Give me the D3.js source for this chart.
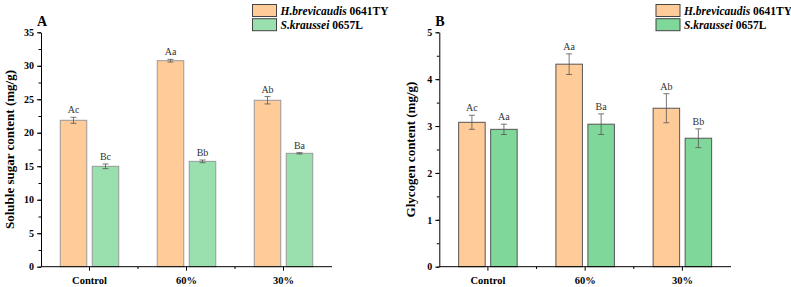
<!DOCTYPE html>
<html>
<head>
<meta charset="utf-8">
<script src="https://cdn.jsdelivr.net/npm/d3@7"></script>
<style>
  body { margin: 0; background: #fff; }
  svg, svg text { font-family: "Liberation Serif", "Times New Roman", serif; }
</style>
</head>
<body>
<div id="chart"></div>
<script>
const groups = ['Control', '60%', '30%'];
const seriesNames = ['H.brevicaudis', 'S.kraussei'];
const seriesCodes = [' 0641TY', ' 0657L'];

// panel A - soluble sugar
const sugarH = [21.86, 30.76, 24.85];
const sugarHErr = [0.45, 0.2, 0.55];
const sugarS = [14.99, 15.73, 16.93];
const sugarSErr = [0.35, 0.2, 0.1];
const sugarLabelsH = ['Ac', 'Aa', 'Ab'];
const sugarLabelsS = ['Bc', 'Bb', 'Ba'];
const sugarTicks = [0, 5, 10, 15, 20, 25, 30, 35];

// panel B - glycogen
const glyH = [3.08, 4.32, 3.38];
const glyHErr = [0.15, 0.22, 0.31];
const glyS = [2.93, 3.04, 2.74];
const glySErr = [0.11, 0.22, 0.2];
const glyLabelsH = ['Ac', 'Aa', 'Ab'];
const glyLabelsS = ['Aa', 'Ba', 'Bb'];
const glyTicks = [0, 1, 2, 3, 4, 5];

const W = 791, H = 287;
const svg = d3.select("#chart").append("svg")
  .attr("width", W).attr("height", H);

function panel(opt) {
  const g = svg.append("g");
  const x = d3.scaleBand().domain(groups).range([opt.x0, opt.x1]);
  const y = d3.scaleLinear().domain([0, opt.max]).range([266.7, 32.3]);

  // minor y ticks
  const minor = d3.range(0, opt.max + 1e-9, opt.max / ((opt.ticks.length - 1) * 2));
  g.append("g")
    .attr("transform", "translate(" + opt.x0 + ",0)")
    .call(d3.axisLeft(y).tickValues(minor).tickSize(2.5).tickFormat(""))
    .call(a => a.select(".domain").remove());

  const yAxis = g.append("g")
    .attr("transform", "translate(" + opt.x0 + ",0)")
    .call(d3.axisLeft(y).tickValues(opt.ticks).tickFormat(d3.format("d"))
      .tickSize(4).tickSizeOuter(0).tickPadding(3));
  yAxis.attr("font-family", null);
  yAxis.selectAll("text").style("font-size", "10px").style("font-weight", "bold").attr("fill", "#000");

  // bars
  const bw = 26.5;
  const sets = [
    { vals: opt.h, err: opt.hErr, lab: opt.hLab, color: "#ffcc99", off: -16 },
    { vals: opt.s, err: opt.sErr, lab: opt.sLab, color: opt.green, off: 16 }
  ];
  sets.forEach(s => {
    g.selectAll(null).data(groups).enter().append("rect")
      .attr("x", (d) => x(d) + x.bandwidth() / 2 + s.off - bw / 2)
      .attr("y", (d, i) => y(s.vals[i]))
      .attr("width", bw)
      .attr("height", (d, i) => y(0) - y(s.vals[i]))
      .attr("fill", s.color)
      .attr("stroke", opt.barStroke)
      .attr("stroke-width", 1);

    // error bars
    groups.forEach((d, i) => {
      const cx = x(d) + x.bandwidth() / 2 + s.off;
      const top = y(s.vals[i] + s.err[i]), bot = y(s.vals[i] - s.err[i]);
      g.append("line").attr("x1", cx).attr("x2", cx).attr("y1", top).attr("y2", bot)
        .attr("stroke", "#555").attr("stroke-width", 0.8);
      [top, bot].forEach(yy => g.append("line")
        .attr("x1", cx - 3).attr("x2", cx + 3).attr("y1", yy).attr("y2", yy)
        .attr("stroke", "#555").attr("stroke-width", 0.8));
      g.append("text")
        .attr("x", cx).attr("y", top - 4)
        .attr("text-anchor", "middle")
        .style("font-size", "10px")
        .attr("fill", "#333")
        .text(s.lab[i]);
    });
  });

  // x axis
  const xAxis = g.append("g")
    .attr("transform", "translate(0,266.7)")
    .call(d3.axisBottom(x).tickSize(4).tickSizeOuter(0).tickPadding(6));
  xAxis.attr("font-family", null);
  xAxis.select(".domain").attr("d", "M" + opt.x0 + ",0H" + opt.x1);
  xAxis.selectAll("text").style("font-size", "10.5px").style("font-weight", "bold").attr("fill", "#000");
  // minor x ticks between groups
  [1, 2].forEach(k => {
    const xx = opt.x0 + x.step() * k;
    g.append("line").attr("x1", xx).attr("x2", xx).attr("y1", 266.7).attr("y2", 269)
      .attr("stroke", "#000");
  });

  // axis title
  g.append("text")
    .attr("transform", "translate(" + opt.titleX + "," + ((y(0) + y(opt.max)) / 2) + ") rotate(-90)")
    .attr("text-anchor", "middle")
    .style("font-size", "13px").style("font-weight", "bold")
    .text(opt.yTitle);

  // panel letter
  g.append("text")
    .attr("x", opt.x0 - 4).attr("y", 26)
    .style("font-size", "14px").style("font-weight", "bold")
    .text(opt.letter);

  // legend
  const legColors = ["#ffcc99", opt.green];
  legColors.forEach((c, i) => {
    g.append("rect")
      .attr("x", opt.legX).attr("y", 4.5 + i * 14.2)
      .attr("width", 24).attr("height", 12)
      .attr("fill", c).attr("stroke", "#444").attr("stroke-width", 1);
    const t = g.append("text")
      .attr("x", opt.legX + 28).attr("y", 14.8 + i * 14.2)
      .style("font-size", "11.5px").style("font-weight", "bold");
    t.append("tspan").style("font-style", "italic").text(seriesNames[i]);
    t.append("tspan").text(seriesCodes[i]);
  });
}

panel({
  x0: 41, x1: 332, max: 35, ticks: sugarTicks,
  h: sugarH, hErr: sugarHErr, hLab: sugarLabelsH,
  s: sugarS, sErr: sugarSErr, sLab: sugarLabelsS,
  green: "#9adfae", barStroke: "#999",
  yTitle: "Soluble sugar content (mg/g)", titleX: 14,
  letter: "A", legX: 252.5
});

panel({
  x0: 439.3, x1: 731, max: 5, ticks: glyTicks,
  h: glyH, hErr: glyHErr, hLab: glyLabelsH,
  s: glyS, sErr: glySErr, sLab: glyLabelsS,
  green: "#7fd899", barStroke: "#555",
  yTitle: "Glycogen content (mg/g)", titleX: 415,
  letter: "B", legX: 656
});
</script>
</body>
</html>
